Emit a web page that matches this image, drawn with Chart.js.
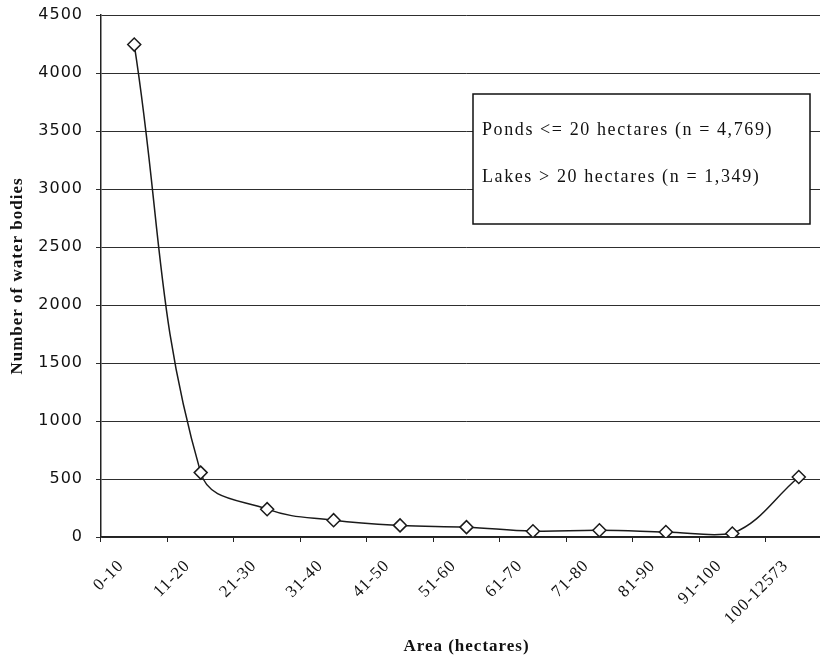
<!DOCTYPE html>
<html lang="en">
<head>
    <meta charset="UTF-8">
    <title>Water bodies by area</title>
    <script src="https://cdn.jsdelivr.net/npm/chart.js"></script>
    <style>
        html, body { margin: 0; padding: 0; background: #fff; overflow: hidden; }
        #areaChart { display: block; }
    </style>
</head>
<body>
    <canvas id="areaChart" width="840" height="657"></canvas>

    <script>
        // size classes (hectares) and number of water bodies in each
        const areaClasses = ['0-10', '11-20', '21-30', '31-40', '41-50', '51-60',
                             '61-70', '71-80', '81-90', '91-100', '100-12573'];
        const waterBodyCounts = [4245, 555, 240, 145, 100, 85, 50, 58, 43, 30, 517];

        // y axis range
        const yMin = 0;
        const yMax = 4500;
        const yStep = 500;

        // text in the boxed note
        const noteLines = ['Ponds <= 20 hectares (n = 4,769)', 'Lakes > 20 hectares (n = 1,349)'];

        const serif = '"Liberation Serif", "Times New Roman", serif';

        // the scanned figure has slightly spread lettering
        const spacingPlugin = {
            id: 'spacing',
            beforeDraw(chart) { chart.ctx.letterSpacing = '1px'; },
            afterDraw(chart) { chart.ctx.letterSpacing = '0px'; }
        };

        // white box with the two summary lines, upper right of the plot
        const noteBox = {
            id: 'noteBox',
            afterDraw(chart) {
                const ctx = chart.ctx;
                const area = chart.chartArea;
                const x = area.left + 372;
                const y = area.top + 79;
                const w = 337;
                const h = 130;
                ctx.save();
                ctx.fillStyle = '#fff';
                ctx.fillRect(x, y, w, h);
                ctx.strokeStyle = '#111';
                ctx.lineWidth = 1.5;
                ctx.strokeRect(x, y, w, h);
                ctx.fillStyle = '#111';
                ctx.font = '18px ' + serif;
                ctx.letterSpacing = '1.6px';
                ctx.textBaseline = 'middle';
                ctx.textAlign = 'left';
                noteLines.forEach((line, i) => {
                    ctx.fillText(line, x + 9, y + 36 + i * 47);
                });
                ctx.restore();
            }
        };

        const ctx = document.getElementById('areaChart').getContext('2d');
        const chart = new Chart(ctx, {
            type: 'line',
            data: {
                labels: areaClasses,
                datasets: [{
                    label: 'Number of water bodies',
                    data: waterBodyCounts,
                    borderColor: '#1a1a1a',
                    borderWidth: 1.5,
                    tension: 0.4,
                    fill: false,
                    pointStyle: 'rectRot',
                    pointRadius: 6.5,
                    pointBorderWidth: 1.5,
                    pointBackgroundColor: '#fff',
                    pointBorderColor: '#1a1a1a',
                }]
            },
            options: {
                responsive: false,
                animation: false,
                layout: { padding: { top: 15, right: 7, bottom: 0, left: 0 } },
                plugins: {
                    legend: { display: false },
                    tooltip: { enabled: false },
                },
                scales: {
                    x: {
                        offset: true,
                        grid: {
                            offset: true,
                            drawOnChartArea: false,
                            drawTicks: true,
                            tickLength: 5,
                            color: '#222',
                        },
                        border: { display: true, color: '#222', width: 1.5 },
                        ticks: {
                            color: '#111',
                            font: { family: serif, size: 17 },
                            minRotation: 45,
                            maxRotation: 45,
                            padding: 14,
                            labelOffset: -13,
                            autoSkip: false,
                        },
                        title: {
                            display: true,
                            text: 'Area (hectares)',
                            color: '#111',
                            font: { family: serif, size: 17, weight: 'bold' },
                            padding: { top: 0, bottom: 0 },
                        },
                        afterFit(scale) {
                            scale.height = 120;
                            scale.paddingTop = 0;
                        },
                    },
                    y: {
                        min: yMin,
                        max: yMax,
                        grid: {
                            color: '#2e2e2e',
                            lineWidth: 1,
                            tickLength: 5,
                        },
                        border: { display: true, color: '#222', width: 1.5 },
                        ticks: {
                            stepSize: yStep,
                            color: '#111',
                            font: { family: '"DejaVu Sans", sans-serif', size: 16 },
                            padding: 13,
                            callback: (value) => String(value),
                        },
                        title: {
                            display: true,
                            text: 'Number of water bodies',
                            color: '#111',
                            font: { family: serif, size: 17, weight: 'bold' },
                            padding: { top: 7, bottom: 0 },
                        },
                        afterFit(scale) {
                            scale.width = 101;
                            scale.paddingTop = 0;
                        },
                    },
                },
            },
            plugins: [spacingPlugin, noteBox],
        });
    </script>
</body>
</html>
